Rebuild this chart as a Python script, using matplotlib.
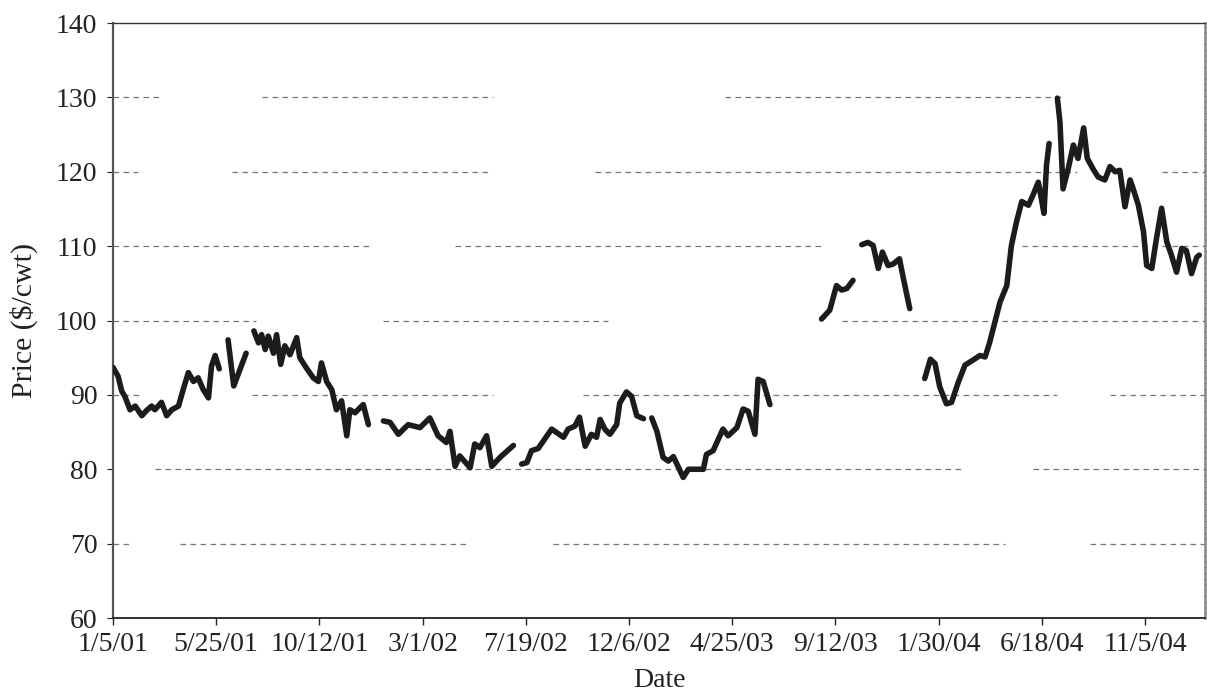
import matplotlib
matplotlib.use('Agg')
import matplotlib.pyplot as plt
import numpy as np

nan = np.nan

# weeks since 1/5/01 and price ($/cwt); nan = gap in the series
weeks = [0.0, 1.0, 1.7, 2.3, 3.3, 4.3, 5.6, 6.5, 7.5, 8.1, 9.4, 10.4, 11.4, 12.7,
         13.6, 14.6, 15.6, 16.5, 17.5, 18.5, 19.1, 19.8, 20.6, 21.5,
         22.3, 23.4, 25.8, 26.5,
         27.3, 28.2, 28.8, 29.5, 30.1, 31.1, 31.7, 32.5, 33.3, 34.3, 35.6, 36.2,
         37.5, 38.8, 39.8, 40.4, 41.4, 42.4, 43.3, 44.3, 45.3, 45.9, 46.9, 48.5,
         49.5, 51.0,
         52.4, 53.7, 55.3, 57.2, 59.5, 61.4, 63.0, 64.6, 65.3, 66.3, 67.2, 69.2,
         70.1, 71.1, 72.4, 73.4, 75.0, 77.6, 78.4,
         79.2, 80.2, 81.1, 82.4, 85.0, 87.3, 88.2, 89.5, 90.4, 91.5, 92.7, 93.7,
         94.4, 95.3, 96.3, 97.6, 98.2, 99.5, 100.5, 101.5, 102.8, 103.6,
         104.4, 105.4, 106.6, 107.6, 108.6, 110.5, 111.5, 113.1, 114.4, 115.0,
         116.3, 118.2, 119.2, 120.9, 122.1, 123.1, 124.4, 125.0, 126.0, 127.3, 132.0,
         137.3, 138.9, 140.2, 141.2, 142.2, 143.4, 144.2,
         145.1, 146.3, 147.3, 148.3, 149.1, 150.2, 151.2, 152.4, 153.3, 154.4, 156.0,
         157.3, 158.4, 159.3, 160.2, 161.5, 162.5, 163.8, 165.1, 166.7, 168.0,
         169.0, 169.9, 170.9, 171.9, 173.2, 174.1, 175.1, 176.1, 177.4, 178.3,
         179.3, 179.9, 180.4, 180.9, 181.4, 182.2,
         183.0, 183.5, 184.1, 185.1, 186.1, 187.0, 188.1, 188.8, 189.9, 190.9,
         192.2, 193.2, 194.2, 195.1, 196.1, 197.1, 197.7, 198.7, 199.7, 200.3,
         201.3, 202.2, 203.2, 204.2, 205.1, 206.1, 207.1, 208.0, 209.0, 210.0, 210.5]

price = [93.7, 92.5, 90.5, 89.8, 88.0, 88.5, 87.2, 87.9, 88.5, 88.0, 89.0, 87.2, 88.0, 88.5,
         90.7, 93.0, 91.8, 92.3, 90.7, 89.6, 93.9, 95.3, 93.5, nan,
         97.4, 91.2, 95.6, nan,
         98.6, 97.0, 98.1, 96.1, 97.9, 95.6, 98.1, 94.1, 96.6, 95.4, 97.7, 95.0,
         93.6, 92.3, 91.8, 94.3, 91.8, 90.7, 88.0, 89.2, 84.5, 88.0, 87.6, 88.7,
         86.0, nan,
         86.5, 86.3, 84.7, 86.0, 85.6, 86.9, 84.5, 83.6, 85.1, 80.4, 81.8, 80.2,
         83.4, 82.9, 84.5, 80.4, 81.6, 83.2, nan,
         80.7, 80.9, 82.5, 82.8, 85.4, 84.3, 85.4, 85.8, 87.0, 83.1, 84.7, 84.3,
         86.7, 85.4, 84.7, 86.0, 88.9, 90.4, 89.8, 87.2, 86.8, nan,
         86.9, 85.1, 81.6, 81.1, 81.7, 78.9, 80.0, 80.0, 80.0, 82.0,
         82.5, 85.4, 84.5, 85.6, 88.1, 87.8, 84.7, 92.1, 91.8, 88.7, nan,
         100.2, 101.4, 104.7, 104.1, 104.3, 105.4, nan,
         110.2, 110.5, 110.1, 107.0, 109.2, 107.4, 107.6, 108.3, 105.2, 101.6, nan,
         92.2, 94.8, 94.2, 91.1, 88.8, 89.0, 91.7, 94.0, 94.7, 95.3,
         95.1, 97.1, 99.8, 102.5, 104.7, 110.1, 113.3, 116.0, 115.5, 116.9,
         118.6, 116.4, 114.4, 120.9, 123.8, nan,
         129.9, 126.7, 117.7, 120.4, 123.6, 121.8, 125.9, 121.8, 120.4, 119.3,
         118.9, 120.7, 120.0, 120.2, 115.3, 118.9, 117.7, 115.5, 111.9, 107.4,
         107.0, 111.0, 115.1, 110.6, 108.8, 106.5, 109.7, 109.4, 106.3, 108.5, 108.8]

tick_weeks = [0, 20, 40, 60, 80, 100, 120, 140, 160, 180, 200]
tick_labels = ['1/5/01', '5/25/01', '10/12/01', '3/1/02', '7/19/02', '12/6/02',
               '4/25/03', '9/12/03', '1/30/04', '6/18/04', '11/5/04']
y_ticks = [60, 70, 80, 90, 100, 110, 120, 130, 140]

# visible pieces of the (scanned) dashed gridlines: level, start week, end week
grid_pieces = [(130, 0, 9.1), (130, 28.9, 73.6), (130, 118.6, 184.5),
               (120, 0, 4.8), (120, 23.1, 73.0), (120, 93.4, 186.8), (120, 203.3, 211.6),
               (110, 0, 50.4), (110, 66.3, 137.4), (110, 176.1, 211.6),
               (100, 0, 27.7), (100, 52.3, 95.9), (100, 141.2, 211.6),
               (90, 0, 5.2), (90, 26.9, 73.6), (90, 91.1, 182.9), (90, 193.2, 211.6),
               (80, 8.1, 164.5), (80, 178.3, 211.6),
               (70, 0, 3.7), (70, 13.0, 69.2), (70, 85.3, 172.8), (70, 189.3, 211.6)]

plt.rcParams['font.family'] = ['Liberation Serif', 'DejaVu Serif']

fig = plt.figure(figsize=(12.07, 6.98), dpi=100)
ax = fig.add_axes([0.0936, 0.1146, 0.9047, 0.8524])

for lvl, a, b in grid_pieces:
    ax.plot([a, b], [lvl, lvl], color='#777777', lw=0.9, ls=(0, (4.5, 3.5)), zorder=1)

ax.plot(weeks, price, color='#1c1c1c', lw=4.0, solid_joinstyle='round',
        solid_capstyle='round', zorder=3)

ax.set_xlim(0, 211.6)
ax.set_ylim(60, 140)
ax.set_xticks(tick_weeks)
ax.set_xticklabels(tick_labels)
ax.set_yticks(y_ticks)

ax.tick_params(axis='x', direction='out', length=5, width=1, pad=5, labelsize=20,
               colors='#222222')
ax.tick_params(axis='y', direction='out', length=4.3, width=0.8, pad=7, labelsize=20,
               colors='#222222')

ax.spines['left'].set_color('#555555')
ax.spines['left'].set_linewidth(1.6)
ax.spines['bottom'].set_color('#222222')
ax.spines['bottom'].set_linewidth(1.3)
ax.spines['top'].set_color('#333333')
ax.spines['top'].set_linewidth(1.0)
ax.spines['right'].set_color('#888888')
ax.spines['right'].set_linewidth(1.8)
ax.spines['right'].set_linestyle((0, (1.5, 0.8)))

ax.set_ylabel('Price (\\$/cwt)', fontsize=21.5, color='#222222', labelpad=13)
ax.set_xlabel('Date', fontsize=20, color='#222222', labelpad=8)

fig.savefig('out.png', dpi=100)
